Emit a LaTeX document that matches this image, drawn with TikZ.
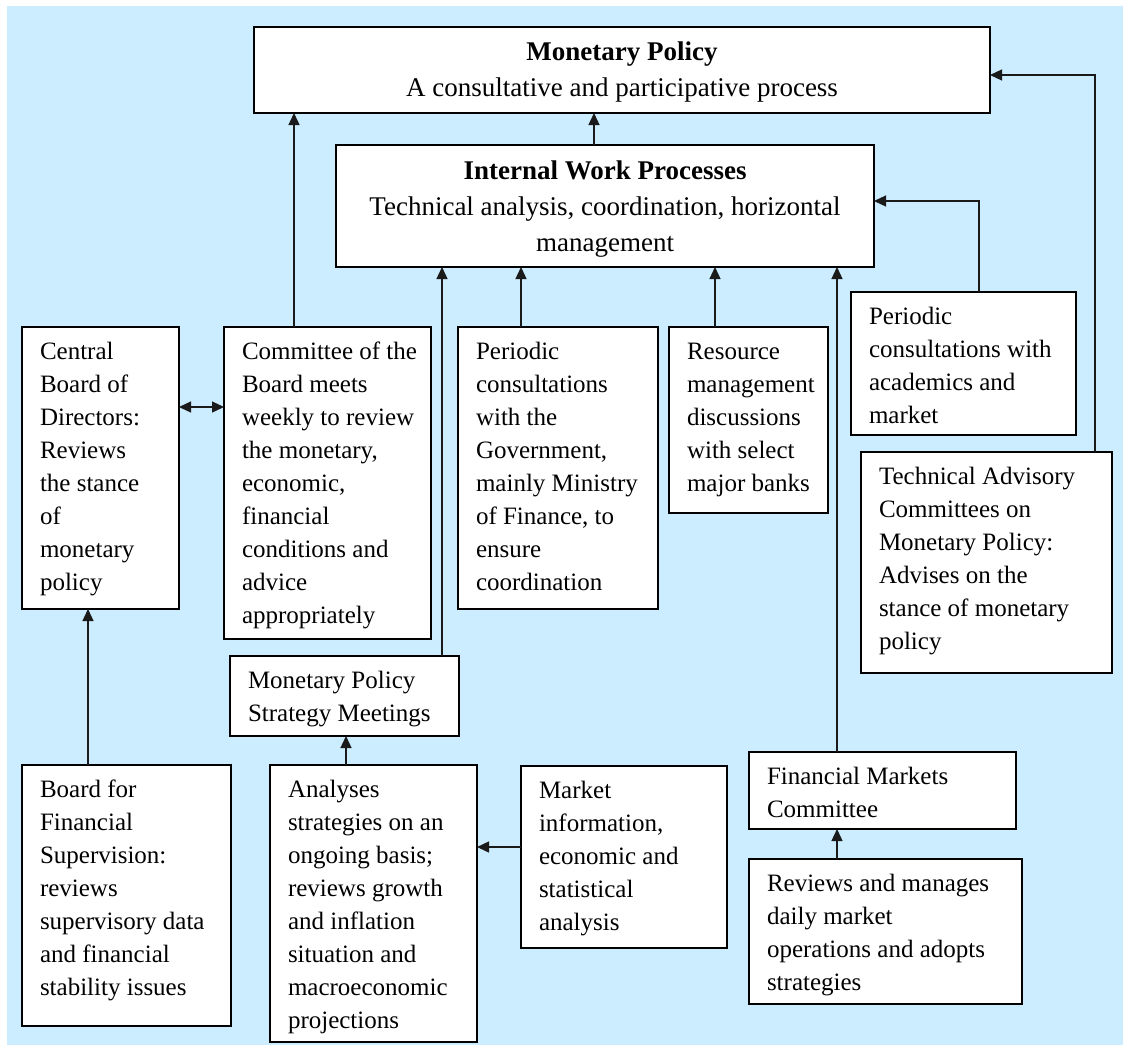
\documentclass[tikz,border=0pt]{standalone}
\usepackage{fontspec}
\setmainfont{Liberation Serif}
\usetikzlibrary{arrows.meta}
\definecolor{bgblue}{HTML}{CCECFF}
\definecolor{lineink}{HTML}{1A1A1A}

% name, x1, y1, x2, y2, text
\newcommand\mybox[6]{%
  \node[box, anchor=north west, minimum width={(#4-#2)*1pt}, minimum height={(#5-#3)*1pt}] (#1) at (#2,#3) {};
  \node[txt] (#1t) at (#2+18,#3+9) {\strut #6};
}

\begin{document}
\begin{tikzpicture}[x=1pt,y=-1pt,
  box/.style={draw=black, line width=1.6pt, fill=white, inner sep=0pt, outer sep=0pt},
  txt/.style={inner sep=0pt, outer sep=0pt, anchor=north west, align=left, font=\fontsize{25}{33}\selectfont},
  head/.style={inner sep=0pt, outer sep=0pt, anchor=north, align=center, font=\fontsize{27}{36}\selectfont},
  tip/.tip={Triangle[width=11pt,length=12pt]},
  conn/.style={line width=1.3pt, draw=lineink, -tip},
]
\useasboundingbox (0,0) rectangle (1123,1045);
\fill[white] (0,0) rectangle (1123,1045);
\fill[bgblue] (7,6) rectangle (1123,1045);

% top boxes
\node[box, anchor=north west, minimum width=736pt, minimum height=86pt] (mp) at (254,27) {};
\node[head] (mpt) at (622,35) {\strut\textbf{Monetary Policy}\\A consultative and participative process};
\node[box, anchor=north west, minimum width=538pt, minimum height=122pt] (iwp) at (336,145) {};
\node[head] (iwpt) at (605,154) {\strut\textbf{Internal Work Processes}\\Technical analysis, coordination, horizontal\\management};

% middle row
\mybox{cbd}{22}{327}{179}{609}{Central\\Board of\\Directors:\\Reviews\\the stance\\of\\monetary\\policy}
\mybox{comm}{224}{327}{431}{639}{Committee of the\\Board meets\\weekly to review\\the monetary,\\economic,\\financial\\conditions and\\advice\\appropriately}
\mybox{gov}{458}{327}{658}{609}{Periodic\\consultations\\with the\\Government,\\mainly Ministry\\of Finance, to\\ensure\\coordination}
\mybox{res}{669}{327}{828}{513}{Resource\\management\\discussions\\with select\\major banks}
\mybox{acad}{851}{292}{1076}{435}{Periodic\\consultations with\\academics and\\market}
\mybox{tac}{861}{452}{1112}{673}{Technical Advisory\\Committees on\\Monetary Policy:\\Advises on the\\stance of monetary\\policy}
\mybox{mpsm}{230}{656}{459}{736}{Monetary Policy\\Strategy Meetings}

% bottom row
\mybox{bfs}{22}{765}{231}{1026}{Board for\\Financial\\Supervision:\\reviews\\supervisory data\\and financial\\stability issues}
\mybox{anl}{270}{765}{477}{1042}{Analyses\\strategies on an\\ongoing basis;\\reviews growth\\and inflation\\situation and\\macroeconomic\\projections}
\mybox{mkt}{521}{766}{727}{948}{Market\\information,\\economic and\\statistical\\analysis}
\mybox{fmc}{749}{752}{1016}{829}{Financial Markets\\Committee}
\mybox{rev}{749}{859}{1022}{1004}{Reviews and manages\\daily market\\operations and adopts\\strategies}

% connectors
\draw[conn] (294,0 |- comm.north) -- (294,0 |- mp.south);
\draw[conn] (594,0 |- iwp.north) -- (594,0 |- mp.south);
\draw[conn] (1095,0 |- tac.north) -- (1095,75) -- (mp.east |- 0,75);
\draw[conn] (979,0 |- acad.north) -- (979,201) -- (iwp.east |- 0,201);
\draw[conn] (442,0 |- mpsm.north) -- (442,0 |- iwp.south);
\draw[conn] (521,0 |- gov.north) -- (521,0 |- iwp.south);
\draw[conn] (715,0 |- res.north) -- (715,0 |- iwp.south);
\draw[conn] (837,0 |- fmc.north) -- (837,0 |- iwp.south);
\draw[conn, tip-tip] (cbd.east |- 0,407) -- (comm.west |- 0,407);
\draw[conn] (88,0 |- bfs.north) -- (88,0 |- cbd.south);
\draw[conn] (346,0 |- anl.north) -- (346,0 |- mpsm.south);
\draw[conn] (mkt.west |- 0,847) -- (anl.east |- 0,847);
\draw[conn] (837,0 |- rev.north) -- (837,0 |- fmc.south);
\end{tikzpicture}
\end{document}
